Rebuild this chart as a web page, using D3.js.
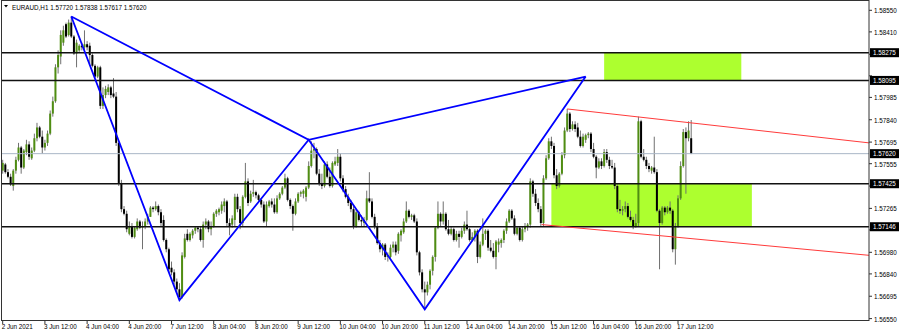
<!DOCTYPE html>
<html>
<head>
<meta charset="utf-8">
<script src="https://cdn.jsdelivr.net/npm/d3@7"></script>
<style>
  html, body { margin: 0; padding: 0; background: #fff; }
  svg { display: block; font-family: "Liberation Sans", Arial, sans-serif; }
</style>
</head>
<body>
<svg id="chart" width="900" height="334"></svg>
<script>
// EURAUD H1, one row per hour: [open, high, low, close]
const candles = [
  [1.5751,1.5758,1.5749,1.5756],[1.5755,1.5756,1.5749,1.5750],[1.5750,1.5752,1.5746,1.5747],[1.5747,1.5749,1.5741,1.5742],
  [1.5741,1.5752,1.5738,1.5751],[1.5751,1.5760,1.5749,1.5758],[1.5758,1.5769,1.5757,1.5766],[1.5766,1.5767,1.5749,1.5753],
  [1.5753,1.5765,1.5752,1.5764],[1.5763,1.5771,1.5761,1.5768],[1.5768,1.5770,1.5758,1.5760],[1.5759,1.5766,1.5758,1.5764],
  [1.5764,1.5775,1.5763,1.5772],[1.5772,1.5782,1.5770,1.5779],[1.5779,1.5780,1.5772,1.5773],[1.5773,1.5777,1.5762,1.5766],
  [1.5766,1.5771,1.5764,1.5769],[1.5769,1.5777,1.5767,1.5775],[1.5775,1.5790,1.5774,1.5788],[1.5788,1.5799,1.5786,1.5796],
  [1.5796,1.5820,1.5795,1.5818],[1.5818,1.5829,1.5814,1.5826],[1.5825,1.5842,1.5820,1.5839],[1.5834,1.5845,1.5832,1.5842],
  [1.5846,1.5847,1.5837,1.5838],[1.5839,1.5849,1.5838,1.5847],[1.5847,1.5851,1.5837,1.5838],[1.5838,1.5839,1.5826,1.5827],
  [1.5827,1.5836,1.5818,1.5834],[1.5829,1.5833,1.5828,1.5832],[1.5832,1.5834,1.5829,1.5831],[1.5831,1.5842,1.5829,1.5833],
  [1.5833,1.5835,1.5829,1.5831],[1.5832,1.5834,1.5820,1.5826],[1.5826,1.5827,1.5818,1.5819],[1.5819,1.5820,1.5811,1.5812],
  [1.5812,1.5819,1.5811,1.5818],[1.5818,1.5819,1.5791,1.5793],[1.5793,1.5805,1.5791,1.5800],[1.5800,1.5806,1.5798,1.5804],
  [1.5802,1.5807,1.5800,1.5805],[1.5805,1.5806,1.5798,1.5800],[1.5801,1.5811,1.5798,1.5799],[1.5799,1.5802,1.5767,1.5769],
  [1.5769,1.5770,1.5741,1.5743],[1.5743,1.5745,1.5724,1.5726],[1.5726,1.5728,1.5722,1.5723],[1.5723,1.5725,1.5711,1.5713],
  [1.5710,1.5718,1.5709,1.5715],[1.5715,1.5717,1.5707,1.5708],[1.5708,1.5715,1.5707,1.5714],[1.5713,1.5720,1.5712,1.5718],
  [1.5718,1.5719,1.5713,1.5714],[1.5714,1.5718,1.5700,1.5715],[1.5715,1.5720,1.5713,1.5718],[1.5718,1.5723,1.5716,1.5721],
  [1.5721,1.5728,1.5721,1.5727],[1.5727,1.5728,1.5724,1.5726],[1.5726,1.5731,1.5725,1.5728],[1.5728,1.5729,1.5722,1.5724],
  [1.5724,1.5726,1.5715,1.5717],[1.5719,1.5722,1.5705,1.5706],[1.5706,1.5707,1.5698,1.5700],[1.5700,1.5701,1.5685,1.5687],
  [1.5688,1.5692,1.5683,1.5685],[1.5685,1.5687,1.5677,1.5679],[1.5679,1.5681,1.5672,1.5674],[1.5674,1.5678,1.5667,1.5669],
  [1.5669,1.5698,1.5668,1.5696],[1.5695,1.5710,1.5694,1.5707],[1.5710,1.5713,1.5705,1.5706],[1.5706,1.5711,1.5705,1.5710],
  [1.5709,1.5713,1.5707,1.5712],[1.5712,1.5715,1.5710,1.5714],[1.5714,1.5715,1.5711,1.5713],[1.5713,1.5715,1.5705,1.5706],
  [1.5706,1.5718,1.5701,1.5716],[1.5716,1.5720,1.5713,1.5718],[1.5718,1.5719,1.5711,1.5713],[1.5713,1.5718,1.5709,1.5715],
  [1.5715,1.5724,1.5714,1.5723],[1.5723,1.5726,1.5721,1.5725],[1.5724,1.5727,1.5722,1.5726],[1.5725,1.5731,1.5723,1.5729],
  [1.5728,1.5733,1.5724,1.5731],[1.5731,1.5732,1.5715,1.5717],[1.5717,1.5720,1.5709,1.5715],[1.5716,1.5722,1.5714,1.5720],
  [1.5719,1.5736,1.5715,1.5734],[1.5734,1.5736,1.5724,1.5726],[1.5726,1.5728,1.5713,1.5717],[1.5717,1.5735,1.5715,1.5734],
  [1.5734,1.5756,1.5733,1.5744],[1.5744,1.5746,1.5728,1.5730],[1.5731,1.5738,1.5730,1.5736],[1.5736,1.5745,1.5734,1.5737],
  [1.5737,1.5738,1.5733,1.5735],[1.5735,1.5736,1.5731,1.5732],[1.5732,1.5733,1.5727,1.5729],[1.5729,1.5731,1.5717,1.5718],
  [1.5718,1.5731,1.5715,1.5729],[1.5728,1.5732,1.5727,1.5731],[1.5731,1.5733,1.5727,1.5729],[1.5729,1.5733,1.5723,1.5724],
  [1.5724,1.5735,1.5723,1.5733],[1.5733,1.5737,1.5732,1.5736],[1.5736,1.5741,1.5735,1.5740],[1.5740,1.5749,1.5739,1.5746],
  [1.5746,1.5747,1.5731,1.5732],[1.5732,1.5733,1.5726,1.5728],[1.5728,1.5729,1.5712,1.5723],[1.5723,1.5733,1.5722,1.5731],
  [1.5731,1.5737,1.5730,1.5736],[1.5736,1.5738,1.5734,1.5737],[1.5736,1.5739,1.5733,1.5738],[1.5734,1.5741,1.5731,1.5740],
  [1.5740,1.5757,1.5739,1.5754],[1.5754,1.5770,1.5753,1.5764],[1.5764,1.5769,1.5759,1.5765],[1.5765,1.5766,1.5748,1.5749],
  [1.5749,1.5752,1.5741,1.5743],[1.5743,1.5749,1.5739,1.5741],[1.5741,1.5757,1.5740,1.5755],[1.5755,1.5757,1.5746,1.5747],
  [1.5747,1.5753,1.5740,1.5741],[1.5741,1.5757,1.5740,1.5756],[1.5755,1.5760,1.5754,1.5757],[1.5756,1.5765,1.5754,1.5760],
  [1.5760,1.5762,1.5744,1.5746],[1.5746,1.5748,1.5737,1.5739],[1.5739,1.5741,1.5733,1.5734],[1.5734,1.5736,1.5728,1.5730],
  [1.5730,1.5732,1.5724,1.5726],[1.5726,1.5728,1.5713,1.5715],[1.5715,1.5726,1.5714,1.5724],[1.5724,1.5725,1.5718,1.5719],
  [1.5719,1.5722,1.5715,1.5718],[1.5717,1.5721,1.5715,1.5719],[1.5719,1.5738,1.5718,1.5733],[1.5733,1.5750,1.5730,1.5731],
  [1.5731,1.5733,1.5720,1.5721],[1.5721,1.5723,1.5713,1.5715],[1.5715,1.5717,1.5703,1.5704],[1.5704,1.5706,1.5698,1.5700],
  [1.5700,1.5704,1.5696,1.5703],[1.5703,1.5704,1.5693,1.5695],[1.5695,1.5698,1.5692,1.5696],[1.5695,1.5703,1.5694,1.5701],
  [1.5701,1.5705,1.5698,1.5703],[1.5703,1.5705,1.5696,1.5698],[1.5699,1.5711,1.5697,1.5710],[1.5709,1.5713,1.5705,1.5712],
  [1.5711,1.5720,1.5710,1.5718],[1.5718,1.5731,1.5717,1.5725],[1.5725,1.5726,1.5720,1.5721],[1.5721,1.5723,1.5719,1.5722],
  [1.5722,1.5723,1.5717,1.5718],[1.5718,1.5720,1.5696,1.5698],[1.5698,1.5699,1.5683,1.5685],[1.5685,1.5687,1.5672,1.5674],
  [1.5674,1.5679,1.5661,1.5672],[1.5672,1.5679,1.5670,1.5677],[1.5677,1.5687,1.5674,1.5686],[1.5686,1.5696,1.5683,1.5695],
  [1.5695,1.5715,1.5692,1.5714],[1.5714,1.5731,1.5713,1.5723],[1.5723,1.5724,1.5715,1.5718],[1.5718,1.5731,1.5716,1.5723],
  [1.5723,1.5724,1.5712,1.5713],[1.5713,1.5719,1.5709,1.5710],[1.5710,1.5715,1.5709,1.5713],[1.5713,1.5714,1.5705,1.5706],
  [1.5706,1.5712,1.5705,1.5710],[1.5710,1.5712,1.5701,1.5708],[1.5708,1.5714,1.5707,1.5712],[1.5712,1.5718,1.5710,1.5716],
  [1.5716,1.5725,1.5712,1.5713],[1.5713,1.5714,1.5705,1.5706],[1.5706,1.5711,1.5705,1.5708],[1.5708,1.5713,1.5705,1.5712],
  [1.5712,1.5713,1.5691,1.5695],[1.5695,1.5705,1.5694,1.5703],[1.5703,1.5720,1.5702,1.5710],[1.5710,1.5713,1.5706,1.5712],
  [1.5712,1.5713,1.5699,1.5701],[1.5701,1.5706,1.5698,1.5699],[1.5699,1.5704,1.5694,1.5695],[1.5695,1.5706,1.5687,1.5705],
  [1.5703,1.5707,1.5698,1.5705],[1.5704,1.5707,1.5701,1.5706],[1.5706,1.5713,1.5704,1.5712],[1.5712,1.5720,1.5710,1.5718],
  [1.5718,1.5726,1.5717,1.5725],[1.5725,1.5726,1.5719,1.5720],[1.5720,1.5722,1.5709,1.5710],[1.5710,1.5715,1.5709,1.5714],
  [1.5714,1.5715,1.5705,1.5706],[1.5706,1.5715,1.5705,1.5713],[1.5713,1.5717,1.5711,1.5715],[1.5715,1.5717,1.5712,1.5716],
  [1.5716,1.5746,1.5714,1.5744],[1.5744,1.5745,1.5734,1.5736],[1.5736,1.5739,1.5728,1.5730],[1.5730,1.5733,1.5724,1.5726],
  [1.5726,1.5728,1.5715,1.5717],[1.5717,1.5748,1.5715,1.5746],[1.5746,1.5761,1.5745,1.5759],[1.5759,1.5772,1.5758,1.5770],
  [1.5770,1.5773,1.5765,1.5767],[1.5767,1.5769,1.5746,1.5748],[1.5748,1.5752,1.5739,1.5741],[1.5741,1.5750,1.5740,1.5749],
  [1.5749,1.5763,1.5748,1.5761],[1.5761,1.5779,1.5759,1.5777],[1.5777,1.5791,1.5776,1.5788],[1.5788,1.5789,1.5776,1.5778],
  [1.5778,1.5783,1.5777,1.5781],[1.5781,1.5783,1.5776,1.5778],[1.5779,1.5782,1.5772,1.5773],[1.5773,1.5777,1.5766,1.5767],
  [1.5767,1.5775,1.5766,1.5773],[1.5771,1.5775,1.5769,1.5774],[1.5774,1.5776,1.5772,1.5775],[1.5775,1.5776,1.5763,1.5765],
  [1.5765,1.5769,1.5759,1.5760],[1.5760,1.5761,1.5746,1.5753],[1.5753,1.5759,1.5752,1.5757],[1.5757,1.5759,1.5752,1.5754],
  [1.5754,1.5765,1.5753,1.5763],[1.5763,1.5765,1.5756,1.5758],[1.5758,1.5760,1.5752,1.5754],[1.5754,1.5758,1.5752,1.5753],
  [1.5753,1.5756,1.5739,1.5741],[1.5741,1.5742,1.5724,1.5726],[1.5726,1.5732,1.5723,1.5725],[1.5725,1.5728,1.5722,1.5726],
  [1.5726,1.5731,1.5724,1.5728],[1.5728,1.5730,1.5720,1.5721],[1.5721,1.5725,1.5718,1.5719],[1.5719,1.5721,1.5713,1.5715],
  [1.5715,1.5723,1.5714,1.5717],[1.5717,1.5786,1.5715,1.5783],[1.5783,1.5784,1.5759,1.5760],[1.5760,1.5765,1.5757,1.5758],
  [1.5758,1.5760,1.5752,1.5754],[1.5754,1.5756,1.5750,1.5752],[1.5751,1.5754,1.5749,1.5753],[1.5753,1.5773,1.5749,1.5750],
  [1.5750,1.5752,1.5724,1.5725],[1.5725,1.5726,1.5687,1.5717],[1.5717,1.5728,1.5716,1.5727],[1.5727,1.5728,1.5722,1.5724],
  [1.5724,1.5728,1.5723,1.5727],[1.5727,1.5731,1.5723,1.5725],[1.5725,1.5726,1.5698,1.5700],[1.5700,1.5717,1.5690,1.5715],
  [1.5715,1.5735,1.5714,1.5733],[1.5733,1.5757,1.5732,1.5754],[1.5754,1.5778,1.5753,1.5776],[1.5776,1.5779,1.5736,1.5772],
  [1.5772,1.5783,1.5770,1.5777],[1.57720,1.57838,1.57617,1.57620]
];

const symbol = "EURAUD,H1";
const timeLabelBars = [0, 16, 32, 48, 64, 80, 96, 112, 128, 144, 160, 176, 192, 208, 224, 240, 256];
const timeLabels = ["2 Jun 2021", "3 Jun 12:00", "4 Jun 04:00", "4 Jun 20:00", "7 Jun 12:00", "8 Jun 04:00",
  "8 Jun 20:00", "9 Jun 12:00", "10 Jun 04:00", "10 Jun 20:00", "11 Jun 12:00", "14 Jun 04:00",
  "14 Jun 20:00", "15 Jun 12:00", "16 Jun 04:00", "16 Jun 20:00", "17 Jun 12:00"];
const priceTicks = ["1.58550", "1.58410", "1.58265", "1.58125", "1.57985", "1.57840", "1.57695", "1.57555",
  "1.57410", "1.57265", "1.57125", "1.56980", "1.56840", "1.56695", "1.56550"];
const levels = [1.58275, 1.58095, 1.57425, 1.57146];
const bidPrice = 1.57620;
// rectangles: [first bar, last bar, upper price, lower price]
const zones = [[228, 280, 1.58275, 1.58095], [208, 284, 1.57425, 1.57146]];
// harmonic pattern points X, A, B, C, D as [bar, price]
const pattern = [[26, 1.5851], [67, 1.5667], [116, 1.5771], [160, 1.5661], [221, 1.5812]];
// channel rays as [bar, price] pairs
const channelUpper = [[214, 1.5791], [328.4, 1.5769]];
const channelLower = [[204.3, 1.5716], [328.8, 1.5696]];

const svg = d3.select("#chart");
const plot = { left: 2, right: 869, top: 0, bottom: 320 };

const x = d3.scaleLinear().domain([0, 256]).range([2.7, 678]);
const y = d3.scaleLinear().domain([1.5655, 1.5855]).range([318.6, 10.3]);

svg.append("defs").append("clipPath").attr("id", "plotclip")
  .append("rect")
  .attr("x", plot.left).attr("y", plot.top)
  .attr("width", plot.right - plot.left).attr("height", plot.bottom - plot.top);

const g = svg.append("g").attr("clip-path", "url(#plotclip)");

// zones (drawn as background)
g.selectAll(".zone")
  .data(zones)
  .enter().append("rect")
  .attr("class", "zone")
  .attr("x", function(d) { return x(d[0]); })
  .attr("width", function(d) { return x(d[1]) - x(d[0]); })
  .attr("y", function(d) { return y(d[2]); })
  .attr("height", function(d) { return y(d[3]) - y(d[2]); })
  .attr("fill", "#adff2f");

// candles
const bars = g.selectAll(".bar")
  .data(candles)
  .enter().append("g")
  .attr("class", "bar");
bars.append("line")
  .attr("x1", function(d, i) { return x(i); })
  .attr("x2", function(d, i) { return x(i); })
  .attr("y1", function(d) { return y(d[1]); })
  .attr("y2", function(d) { return y(d[2]); })
  .attr("stroke", "#707070")
  .attr("stroke-width", 1);
bars.append("rect")
  .attr("x", function(d, i) { return x(i) - 1; })
  .attr("width", 2)
  .attr("y", function(d) { return y(Math.max(d[0], d[3])); })
  .attr("height", function(d) { return Math.max(1, Math.abs(y(d[0]) - y(d[3]))); })
  .attr("fill", function(d) { return d[3] >= d[0] ? "#4f8d12" : "#000"; });

// horizontal levels
g.selectAll(".level")
  .data(levels)
  .enter().append("line")
  .attr("x1", plot.left).attr("x2", plot.right)
  .attr("y1", function(d) { return y(d); })
  .attr("y2", function(d) { return y(d); })
  .attr("stroke", "#111")
  .attr("stroke-width", 1.6);

// bid line
g.append("line")
  .attr("x1", plot.left).attr("x2", plot.right)
  .attr("y1", y(bidPrice)).attr("y2", y(bidPrice))
  .attr("stroke", "#a9b6c6")
  .attr("stroke-width", 1);

// channel rays
const segLine = d3.line()
  .x(function(d) { return x(d[0]); })
  .y(function(d) { return y(d[1]); });
[channelUpper, channelLower].forEach(function(c) {
  g.append("path")
    .attr("d", segLine(c))
    .attr("fill", "none")
    .attr("stroke", "#ff3b3b")
    .attr("stroke-width", 1);
});

// XABCD pattern
const P = pattern;
[[P[0], P[1], P[2], P[3], P[4]], [P[0], P[2], P[4]]].forEach(function(pts) {
  g.append("path")
    .attr("d", segLine(pts))
    .attr("fill", "none")
    .attr("stroke", "#0000ff")
    .attr("stroke-width", 1.8)
    .attr("stroke-linejoin", "miter");
});

// frame
svg.append("rect")
  .attr("x", 1.5).attr("y", 0.5)
  .attr("width", plot.right - 1.5).attr("height", plot.bottom)
  .attr("fill", "none")
  .attr("stroke", "#333")
  .attr("stroke-width", 1);

// price axis
const fontSize = 6.3;
const boxed = levels.concat([bidPrice]);
svg.selectAll(".ptick")
  .data(priceTicks)
  .enter().append("line")
  .attr("x1", plot.right).attr("x2", plot.right + 3)
  .attr("y1", function(d) { return y(+d); })
  .attr("y2", function(d) { return y(+d); })
  .attr("stroke", "#333");
// labels that sit under a highlighted price box are covered by it
const freeTicks = priceTicks.filter(function(t) {
  return boxed.every(function(b) { return Math.abs(y(+t) - y(b)) >= 8; });
});
svg.selectAll(".plabel")
  .data(freeTicks)
  .enter().append("text")
  .attr("x", plot.right + 5)
  .attr("y", function(d) { return y(+d) + 3; })
  .attr("font-size", fontSize)
  .attr("fill", "#000")
  .text(function(d) { return d; });

// highlighted labels for levels and bid
const boxes = svg.selectAll(".pbox")
  .data(boxed)
  .enter().append("g");
boxes.append("rect")
  .attr("x", plot.right + 1)
  .attr("y", function(d) { return y(d) - 4.5; })
  .attr("width", 29)
  .attr("height", 9)
  .attr("fill", "#000");
boxes.append("text")
  .attr("x", plot.right + 4)
  .attr("y", function(d) { return y(d) + 2.3; })
  .attr("font-size", fontSize)
  .attr("fill", "#fff")
  .text(function(d) { return d.toFixed(5); });

// time axis
svg.selectAll(".ttick")
  .data(timeLabelBars)
  .enter().append("line")
  .attr("x1", function(d) { return x(d); })
  .attr("x2", function(d) { return x(d); })
  .attr("y1", plot.bottom).attr("y2", plot.bottom + 4)
  .attr("stroke", "#333");
svg.selectAll(".tlabel")
  .data(timeLabelBars)
  .enter().append("text")
  .attr("x", function(d) { return x(d) - 1; })
  .attr("y", 329)
  .attr("font-size", fontSize)
  .attr("fill", "#000")
  .text(function(d, i) { return timeLabels[i]; });

// title
const last = candles[candles.length - 1];
svg.append("path")
  .attr("d", "M4,5 L8,5 L6,7.5 Z")
  .attr("fill", "#000");
svg.append("text")
  .attr("x", 12)
  .attr("y", 9.5)
  .attr("font-size", fontSize)
  .attr("fill", "#000")
  .text(symbol + " " + last.map(function(v) { return v.toFixed(5); }).join(" "));
</script>
</body>
</html>
